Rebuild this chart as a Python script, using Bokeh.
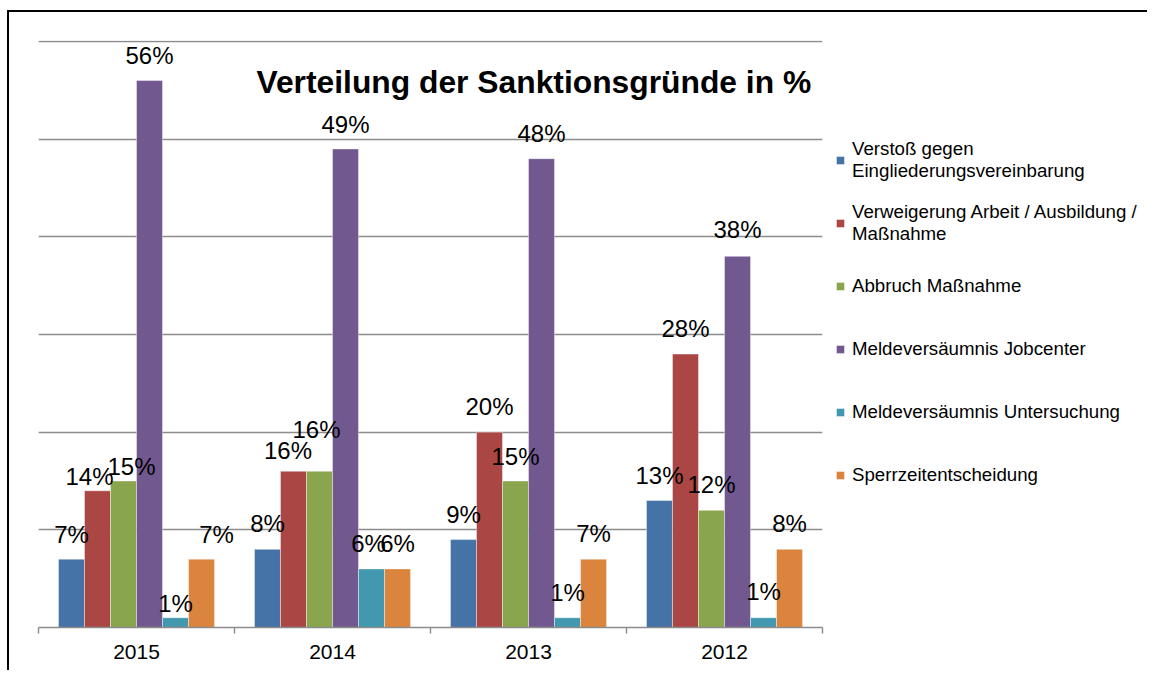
from bokeh.plotting import figure
from bokeh.models import (ColumnDataSource, Range1d, FixedTicker, CustomJSTickFormatter,
                          LabelSet, Label, Legend, LegendItem, SingleIntervalTicker)
from bokeh.transform import dodge
from bokeh.core.properties import value
from bokeh.embed import file_html
from bokeh.resources import INLINE

# ---------------- data ----------------
years = ["2015", "2014", "2013", "2012"]
series = [
    "Verstoß gegen\nEingliederungsvereinbarung",
    "Verweigerung Arbeit / Ausbildung /\nMaßnahme",
    "Abbruch Maßnahme",
    "Meldeversäumnis Jobcenter",
    "Meldeversäumnis Untersuchung",
    "Sperrzeitentscheidung",
]
verstoss = [7, 8, 9, 13]
verweigerung = [14, 16, 20, 28]
abbruch = [15, 16, 15, 12]
jobcenter = [56, 49, 48, 38]
untersuchung = [1, 6, 1, 1]
sperrzeit = [7, 6, 7, 8]
values_by_series = [verstoss, verweigerung, abbruch, jobcenter, untersuchung, sperrzeit]

# ---------------- styles ----------------
colors = ["#4572A7", "#AA4643", "#89A54E", "#71588F", "#4198AF", "#DB843D"]
# label nudges in screen pixels (horizontal shift, baseline gap above bar)
label_dx = [[0, 0, 0, 0], [-8, -5.5, 0, 0], [8, -3, 0, 0],
            [0, 0, 0, 0], [0, -3, 0, 0], [15, 0, 0, 0]]
label_gap = [[16, 17, 17, 17], [6, 12, 17, 17], [6, 33, 16, 17],
             [17, 16, 17, 18], [6, 17, 17, 18], [16, 17, 17, 17]]

FONT = "Liberation Sans"
GRID = "#8C8C8C"

n = len(series)
bar_w = 0.1327
positions = [i + 0.5 for i in range(len(years))]
y_max = 60
y_pad = 1 / 9.767   # one pixel of headroom so the top gridline is drawn

p = figure(frame_width=784, frame_height=587,
           x_range=Range1d(0, len(years)), y_range=Range1d(0, y_max + y_pad),
           output_backend="svg", toolbar_location=None,
           min_border_left=29, min_border_top=28, min_border_bottom=40,
           min_border_right=320)
p.styles = {"border-top": "2px solid #000000", "border-left": "2px solid #000000",
            "border-right": "0px none", "border-bottom": "0px none",
            "margin-left": "7px", "margin-top": "10px",
            "box-sizing": "border-box", "width": "1140px", "height": "660px",
            "overflow": "hidden"}
p.outline_line_color = None
p.background_fill_color = "white"
p.border_fill_color = "white"

items = []
for k in range(n):
    vals = values_by_series[k]
    src = ColumnDataSource(dict(
        pos=positions,
        val=vals,
        lbl=[f"{v}%" for v in vals],
        dx=label_dx[k],
        gap=label_gap[k],
    ))
    off = (k - (n - 1) / 2) * bar_w
    r = p.vbar(x=dodge("pos", off), top="val", bottom=0, width=bar_w, source=src,
               fill_color=colors[k], line_color="white", line_width=0.6, line_alpha=0.7)
    items.append(LegendItem(label=value(series[k]), renderers=[r]))
    labels = LabelSet(x=dodge("pos", off), y="val", text="lbl", source=src,
                      x_offset="dx", y_offset="gap",
                      text_align="center", text_baseline="alphabetic",
                      text_font=value(FONT), text_font_size="24px", text_color="black")
    p.add_layout(labels)

# grid
p.xgrid.visible = False
p.ygrid.ticker = SingleIntervalTicker(interval=10)
p.ygrid.grid_line_color = GRID
p.ygrid.grid_line_width = 1.4
p.yaxis.visible = False

# x axis: labels at centers, ticks at category borders
ax = p.xaxis[0]
ax.ticker = FixedTicker(ticks=positions, minor_ticks=list(range(len(years) + 1)))
ax.formatter = CustomJSTickFormatter(args=dict(years=years),
                                     code="return years[Math.floor(tick)]")
ax.major_tick_line_color = None
ax.major_tick_out = 0
ax.major_tick_in = 0
ax.minor_tick_line_color = GRID
ax.minor_tick_line_width = 1.4
ax.minor_tick_out = 6
ax.minor_tick_in = 0
ax.axis_line_color = GRID
ax.axis_line_width = 1.6
ax.major_label_text_font = FONT
ax.major_label_text_font_size = "21px"
ax.major_label_text_color = "black"
ax.major_label_standoff = 11

# title inside the plot area
title = Label(x=1.112, y=55.9, text="Verteilung der Sanktionsgründe in %",
              text_font=FONT, text_font_size="31.8px", text_font_style="bold",
              text_color="black", text_baseline="alphabetic", text_align="left")
p.add_layout(title)

legend = Legend(items=items, location=(13, 130), orientation="vertical",
                glyph_width=10, glyph_height=10, label_standoff=7,
                label_height=44, spacing=19, padding=0, margin=0,
                label_text_font=FONT, label_text_font_size="18.7px",
                label_text_color="black", border_line_color=None,
                background_fill_alpha=0)
p.add_layout(legend, "right")

open("out.html", "w").write(file_html(p, INLINE))
